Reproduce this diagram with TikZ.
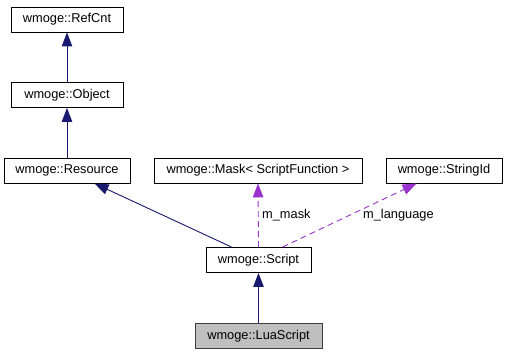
\documentclass[tikz,border=0pt]{standalone}
\usepackage{fontspec}
\setmainfont{Liberation Sans}
\usetikzlibrary{arrows.meta,calc}
\definecolor{inherit}{HTML}{191970}
\definecolor{usage}{HTML}{9A32CD}
\definecolor{current}{HTML}{BFBFBF}
\begin{document}
\begin{tikzpicture}[x=1pt,y=-1pt,
  cls/.style={draw=black,line width=0.9pt,fill=white,rectangle,inner sep=0pt,
    minimum height=25pt,font=\fontsize{12.8}{15}\selectfont},
  curcls/.style={cls,fill=current,draw=black!75},
  isa/.style={draw=inherit,line width=0.9pt,-{Triangle[length=14pt,width=10.5pt,fill=inherit]}},
  uses/.style={draw=usage,line width=0.9pt,dash pattern=on 6pt off 4pt,
    -{Triangle[length=14pt,width=10.5pt,fill=usage]}},
  lbl/.style={font=\fontsize{12.8}{15}\selectfont,inner sep=0pt}]
\useasboundingbox (0,0) rectangle (507,355);
\fill[white] (0,0) rectangle (507,355);

% class boxes
\node[cls,minimum width=112pt] (refcnt)   at (67,19.5)  {wmoge::RefCnt};
\node[cls,minimum width=112pt] (object)   at (67,95)    {wmoge::Object};
\node[cls,minimum width=126pt] (resource) at (67,170.5) {wmoge::Resource};
\node[cls,minimum width=208pt] (mask)     at (258,170.5) {wmoge::Mask< ScriptFunction >};
\node[cls,minimum width=116pt] (strid)    at (444,170.5) {wmoge::StringId};
\node[cls,minimum width=105pt] (script)   at (258.5,260) {wmoge::Script};
\node[curcls,minimum width=127pt] (lua)   at (258.5,336) {wmoge::LuaScript};

% attachment points on box edges
\coordinate (scriptL) at ($(script.north west)+(26,0)$);
\coordinate (scriptR) at ($(script.north west)+(77,0)$);
\coordinate (resB) at ($(resource.south west)+(91,0)$);
\coordinate (strB) at ($(strid.south west)+(31,0)$);

% inheritance
\draw[isa] (object.north) -- (refcnt.south);
\draw[isa] (resource.north) -- (object.south);
\draw[isa] (scriptL) -- (resB);
\draw[isa] (lua.north) -- (script.north |- script.south);

% members
\draw[uses] (script.north) -- (mask.south);
\draw[uses] (scriptR) -- (strB);

\node[lbl,anchor=west] (lmask) at (262,215) {m\_mask};
\node[lbl,anchor=west] (llang) at (363,215) {m\_language};
\end{tikzpicture}
\end{document}
